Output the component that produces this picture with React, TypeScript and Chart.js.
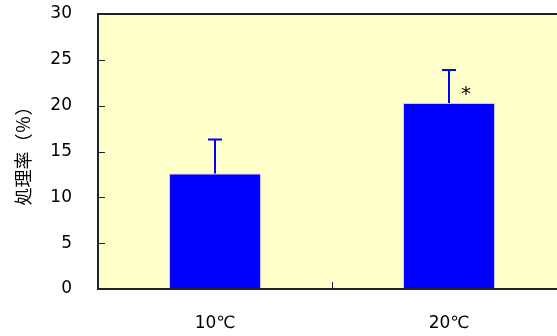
import React, { useEffect, useRef } from "react";
import { Chart, registerables } from "chart.js";

Chart.register(...registerables);

const categories = ["10℃", "20℃"];
const values = [12.6, 20.3];
const errors = [3.7, 3.6];
const yTicks = [0, 5, 10, 15, 20, 25, 30];
const yTitle = "処理率（％）";
const marks = ["", "*"];

const NUM_FONT = "'DejaVu Sans', 'Noto Sans CJK JP', sans-serif";
const JP_FONT = "'Noto Sans CJK JP', sans-serif";

const decorPlugin = {
  id: "decor",
  beforeDraw(chart: any) {
    const { ctx, chartArea } = chart;
    ctx.save();
    ctx.fillStyle = "#FFFFCC";
    ctx.fillRect(chartArea.left, chartArea.top, chartArea.right - chartArea.left, chartArea.bottom - chartArea.top);
    ctx.restore();
  },
  afterDatasetsDraw(chart: any) {
    const { ctx, chartArea } = chart;
    const xs = chart.scales.x;
    const ys = chart.scales.y;
    ctx.save();
    ctx.strokeStyle = "#0000FF";
    ctx.lineWidth = 2;
    values.forEach((v, i) => {
      const x = xs.getPixelForValue(i);
      const yTop = ys.getPixelForValue(v + errors[i]);
      const yBar = ys.getPixelForValue(v);
      ctx.beginPath();
      ctx.moveTo(x, yBar);
      ctx.lineTo(x, yTop);
      ctx.moveTo(x - 7, yTop);
      ctx.lineTo(x + 7, yTop);
      ctx.stroke();
    });
    ctx.fillStyle = "#000";
    ctx.font = `20px ${NUM_FONT}`;
    ctx.textAlign = "center";
    ctx.textBaseline = "alphabetic";
    marks.forEach((m, i) => {
      if (!m) return;
      const x = xs.getPixelForValue(i) + 17;
      const y = ys.getPixelForValue(values[i] + 0.3);
      ctx.fillText(m, x, y);
    });
    ctx.strokeStyle = "#222";
    ctx.lineWidth = 2;
    ctx.strokeRect(chartArea.left, chartArea.top, chartArea.right - chartArea.left, chartArea.bottom - chartArea.top);
    ctx.lineWidth = 1;
    yTicks.forEach((t) => {
      const y = Math.round(ys.getPixelForValue(t)) + 0.5;
      ctx.beginPath();
      ctx.moveTo(chartArea.left, y);
      ctx.lineTo(chartArea.left + 7, y);
      ctx.stroke();
    });
    for (let i = 0; i < categories.length - 1; i++) {
      const x = Math.round((xs.getPixelForValue(i) + xs.getPixelForValue(i + 1)) / 2) + 0.5;
      ctx.beginPath();
      ctx.moveTo(x, chartArea.bottom);
      ctx.lineTo(x, chartArea.bottom - 7);
      ctx.stroke();
    }
    ctx.restore();
  },
};

export default function App() {
  const ref = useRef<HTMLCanvasElement | null>(null);
  useEffect(() => {
    document.body.style.margin = "0";
    document.body.style.overflow = "hidden";
    const chart = new Chart(ref.current as HTMLCanvasElement, {
      type: "bar",
      data: {
        labels: categories,
        datasets: [
          {
            data: values,
            backgroundColor: "#0000FF",
            borderColor: "#C8C8FF",
            borderWidth: 1,
            categoryPercentage: 1,
            barPercentage: 0.393,
          },
        ],
      },
      options: {
        animation: false,
        responsive: false,
        devicePixelRatio: 1,
        layout: { padding: { top: 14, right: 14, left: 0, bottom: 0 } },
        plugins: { legend: { display: false }, tooltip: { enabled: false } },
        scales: {
          x: {
            grid: { display: false, drawTicks: false },
            border: { display: false },
            ticks: { color: "#000", font: { family: NUM_FONT, size: 17 }, padding: 24 },
            afterFit: (s: any) => {
              s.height = 47;
              s.paddingLeft = 0;
              s.paddingRight = 0;
            },
          },
          y: {
            min: 0,
            max: 30,
            grid: { display: false, drawTicks: false },
            border: { display: false },
            afterBuildTicks: (s: any) => {
              s.ticks = yTicks.map((v) => ({ value: v }));
            },
            ticks: { color: "#000", font: { family: NUM_FONT, size: 17 }, padding: 26 },
            title: {
              display: true,
              text: yTitle,
              color: "#000",
              font: { family: JP_FONT, size: 18 },
              padding: { top: 12, bottom: 0 },
            },
            afterFit: (s: any) => {
              s.width = 98;
              s.paddingTop = 0;
              s.paddingBottom = 0;
            },
          },
        },
      },
      plugins: [decorPlugin],
    });
    return () => chart.destroy();
  }, []);
  return (
    <div style={{ position: "fixed", left: 0, top: 0, width: 557, height: 336, overflow: "hidden", background: "#fff" }}>
      <canvas ref={ref} width={580} height={336} style={{ display: "block", width: 580, height: 336 }} />
    </div>
  );
}
